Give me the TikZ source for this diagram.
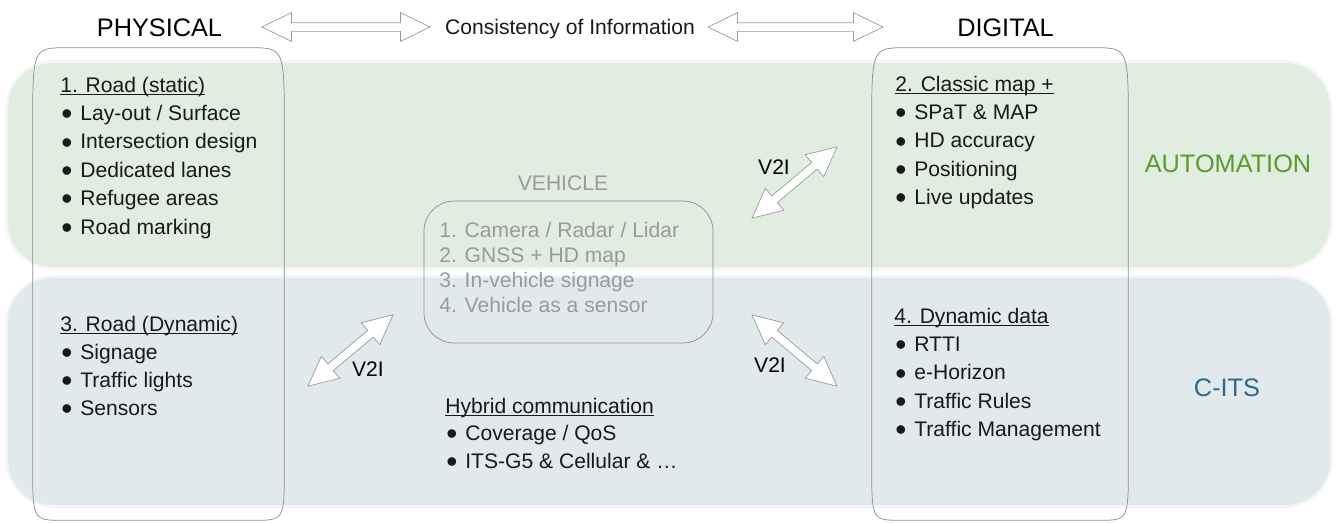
\documentclass[tikz,border=0pt]{standalone}
\usepackage{fontspec}
\setmainfont{Liberation Sans}
\usepackage{tikz}
\usetikzlibrary{shapes.arrows,positioning}

\definecolor{autogreen}{HTML}{E2EDE2}
\definecolor{citsblue}{HTML}{E2E9ED}
\definecolor{autotext}{HTML}{5B9A2B}
\definecolor{citstext}{HTML}{2B6A8C}
\definecolor{boxline}{HTML}{8C8C8C}
\definecolor{vehgray}{HTML}{9A9A9A}
\definecolor{arrowgray}{HTML}{9A9A9A}

\newcommand{\itembul}{\makebox[0.38cm][l]{\smash{\raisebox{-2.4pt}{\scalebox{1.5}{\textbullet}}}}}
\newcommand{\ulhead}[1]{\underline{\smash{#1}}}
% tall box with flat, stretched corners
\newcommand{\softbox}[1]{%
  \draw[boxline] ([xshift=0.7cm]#1.north west) -- ([xshift=-0.7cm]#1.north east)
    .. controls (#1.north east) .. ([yshift=-1.6cm]#1.north east)
    -- ([yshift=1.1cm]#1.south east)
    .. controls (#1.south east) .. ([xshift=-0.6cm]#1.south east)
    -- ([xshift=0.6cm]#1.south west)
    .. controls (#1.south west) .. ([yshift=1.1cm]#1.south west)
    -- ([yshift=-1.6cm]#1.north west)
    .. controls (#1.north west) .. cycle;}

\begin{document}
\begin{tikzpicture}[x=0.02cm, y=-0.02cm,
    txt/.style={font=\fontsize{12}{14}\selectfont, inner sep=0pt, anchor=base west, text=black!90},
    vtxt/.style={txt, text=vehgray},
    bigtxt/.style={font=\fontsize{14.4}{17}\selectfont, inner sep=0pt, anchor=base},
    v2i/.style={font=\fontsize{12}{14}\selectfont, inner sep=0pt},
    blockarrow/.style={double arrow, draw=arrowgray, fill=white, inner sep=0pt, inner ysep=0.08cm,
        double arrow head extend=0.2cm, double arrow tip angle=52},
    tallbox/.style={minimum height=9.44cm, inner sep=0pt}]
\useasboundingbox (0,0) rectangle (1337,522);

% bands (soft rim first)
\fill[autogreen!45, rounded corners=1cm] (5,60) rectangle (1333,270);
\fill[autogreen, rounded corners=0.9cm] (8,63) rectangle (1330,267);
\fill[citsblue!45, rounded corners=1cm] (5,275) rectangle (1333,508);
\fill[citsblue, rounded corners=0.9cm] (8,278) rectangle (1330,505);

% columns
\node[tallbox, minimum width=5.02cm] (physbox) at (158.5,284) {};
\node[tallbox, minimum width=5.12cm] (digibox) at (1000,284) {};
\softbox{physbox}
\softbox{digibox}
\node[draw=boxline, rounded corners=0.6cm, minimum width=5.78cm, minimum height=2.84cm] (vehbox) at (568.5,272) {};

% top line
\node[bigtxt] (physical) at (159.5,36) {PHYSICAL};
\node[bigtxt] (digital) at (1005.5,36) {DIGITAL};
\node[txt, anchor=base] (consist) at (570,34) {Consistency of Information};
\node[blockarrow, minimum height=3.36cm] (arrL) at (346,27) {};
\node[blockarrow, minimum height=3.5cm] (arrR) at (795.5,27) {};

\node[bigtxt, text=autotext] (automation) at (1228,172) {AUTOMATION};
\node[bigtxt, text=citstext] (cits) at (1227,396) {C-ITS};

% physical
\node[txt] (road1) at (60,92) {\ulhead{1. Road (static)}};
\foreach \t [count=\i] in {Lay-out / Surface, Intersection design, Dedicated lanes, Refugee areas, Road marking}
  \node[txt] (road1-\i) at (61,92+28.4*\i) {\itembul\t};
\node[txt] (road3) at (60,331) {\ulhead{3. Road (Dynamic)}};
\foreach \t [count=\i] in {Signage, Traffic lights, Sensors}
  \node[txt] (road3-\i) at (61,331+28*\i) {\itembul\t};

% digital
\node[txt] (map2) at (895,91) {\ulhead{2. Classic map +}};
\foreach \t [count=\i] in {SPaT \& MAP, HD accuracy, Positioning, Live updates}
  \node[txt] (map2-\i) at (895,91+28.4*\i) {\itembul\t};
\node[txt] (data4) at (894,323) {\ulhead{4. Dynamic data}};
\foreach \t [count=\i] in {RTTI, e-Horizon, Traffic Rules, Traffic Management}
  \node[txt] (data4-\i) at (895,323+28.4*\i) {\itembul\t};

% vehicle
\node[vtxt, anchor=base] (vehicle) at (563,190) {VEHICLE};
\foreach \t [count=\i] in {1. Camera / Radar / Lidar, 2. GNSS + HD map, 3. In-vehicle signage, 4. Vehicle as a sensor}
  \node[vtxt] (veh-\i) at (439,212+25*\i) {\t};

% communication
\node[txt] (hybrid) at (445,413) {\ulhead{Hybrid communication}};
\foreach \t [count=\i] in {Coverage / QoS, ITS-G5 \& Cellular \& \dots}
  \node[txt] (hybrid-\i) at (446,413+27.5*\i) {\itembul\t};

% V2I links
\node[blockarrow, minimum height=2.22cm, rotate=40] (v2iA) at (794.5,182.5) {};
\node[blockarrow, minimum height=2.22cm, rotate=40] (v2iB) at (350.5,350.5) {};
\node[blockarrow, minimum height=2.22cm, rotate=-40] (v2iC) at (794.5,350.5) {};
\node[v2i] (v2iA-l) at (774,167) {V2I};
\node[v2i] (v2iB-l) at (368,369) {V2I};
\node[v2i] (v2iC-l) at (770,365) {V2I};
\end{tikzpicture}
\end{document}
